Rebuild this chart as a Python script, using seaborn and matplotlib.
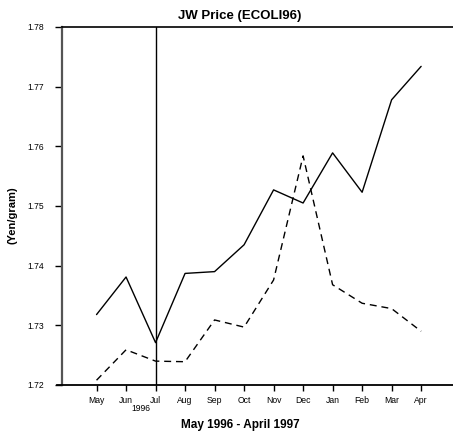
import numpy as np
import pandas as pd
import seaborn as sns
import matplotlib.pyplot as plt

sns.set_theme(style='white')
plt.rcParams['font.family'] = ['Liberation Sans', 'DejaVu Sans']
plt.rcParams.update({'text.color': 'black', 'axes.labelcolor': 'black',
                     'xtick.color': 'black', 'ytick.color': 'black'})

months = ['May', 'Jun', 'Jul', 'Aug', 'Sep', 'Oct', 'Nov', 'Dec', 'Jan', 'Feb', 'Mar', 'Apr']
jw_price = [1.7318, 1.7381, 1.7271, 1.7387, 1.7390, 1.7435, 1.7527, 1.7505, 1.7589, 1.7523, 1.7678, 1.7734]
jw_other = [1.7208, 1.7259, 1.7240, 1.7239, 1.7309, 1.7297, 1.7376, 1.7584, 1.7368, 1.7337, 1.7328, 1.7290]
y_ticks = [1.72, 1.73, 1.74, 1.75, 1.76, 1.77, 1.78]
marker_month = 'Jul'
year_label = '1996'

df = pd.DataFrame({
    'idx': list(range(len(months))) * 2,
    'price': jw_price + jw_other,
    'series': ['solid'] * len(months) + ['dashed'] * len(months),
})

fig = plt.figure(figsize=(4.53, 4.36), dpi=100)
ax = fig.add_axes([0.1369, 0.117, 0.8631, 0.8211])

sns.lineplot(data=df, x='idx', y='price', style='series',
             dashes={'solid': '', 'dashed': (5, 3.5)},
             color='black', linewidth=1.0, legend=False, ax=ax)

ax.axvline(months.index(marker_month), color='black', linewidth=1.0)

xlo, xhi = -1.17, 12.08
ax.set_xlim(xlo, xhi)
ax.set_ylim(y_ticks[0], y_ticks[-1])
ax.set_yticks(y_ticks)
ax.set_yticklabels([f'{t:.2f}' for t in y_ticks], fontsize=6.2)
ax.set_xticks(range(len(months)))
ax.set_xticklabels(months, fontsize=6.2)
ax.tick_params(axis='y', direction='out', length=5, width=1.0, left=True, pad=8)
ax.tick_params(axis='x', direction='out', length=4, width=1.0, bottom=True, pad=4)

# year under the Jun/Jul ticks
ax.text(months.index(marker_month) - 0.5, -0.065, year_label, transform=ax.get_xaxis_transform(),
        ha='center', va='center', fontsize=6.2)

ax.spines['left'].set_color('#555555')
ax.spines['left'].set_linewidth(1.6)
ax.spines['bottom'].set_color('black')
ax.spines['bottom'].set_linewidth(1.3)
ax.spines['bottom'].set_bounds(xlo - 0.17, xhi)
ax.spines['top'].set_color('black')
ax.spines['top'].set_linewidth(1.2)
ax.spines['right'].set_visible(False)

ax.set_title('JW Price (ECOLI96)', fontsize=9.5, fontweight='bold', x=0.455, pad=6)
ax.set_xlabel('May 1996 - April 1997', fontsize=8.5, fontweight='bold')
ax.xaxis.set_label_coords(0.457, -0.094)
ax.set_ylabel('(Yen/gram)', fontsize=8, fontweight='bold')
ax.yaxis.set_label_coords(-0.113, 0.475)

plt.savefig('out.png', dpi=100)
